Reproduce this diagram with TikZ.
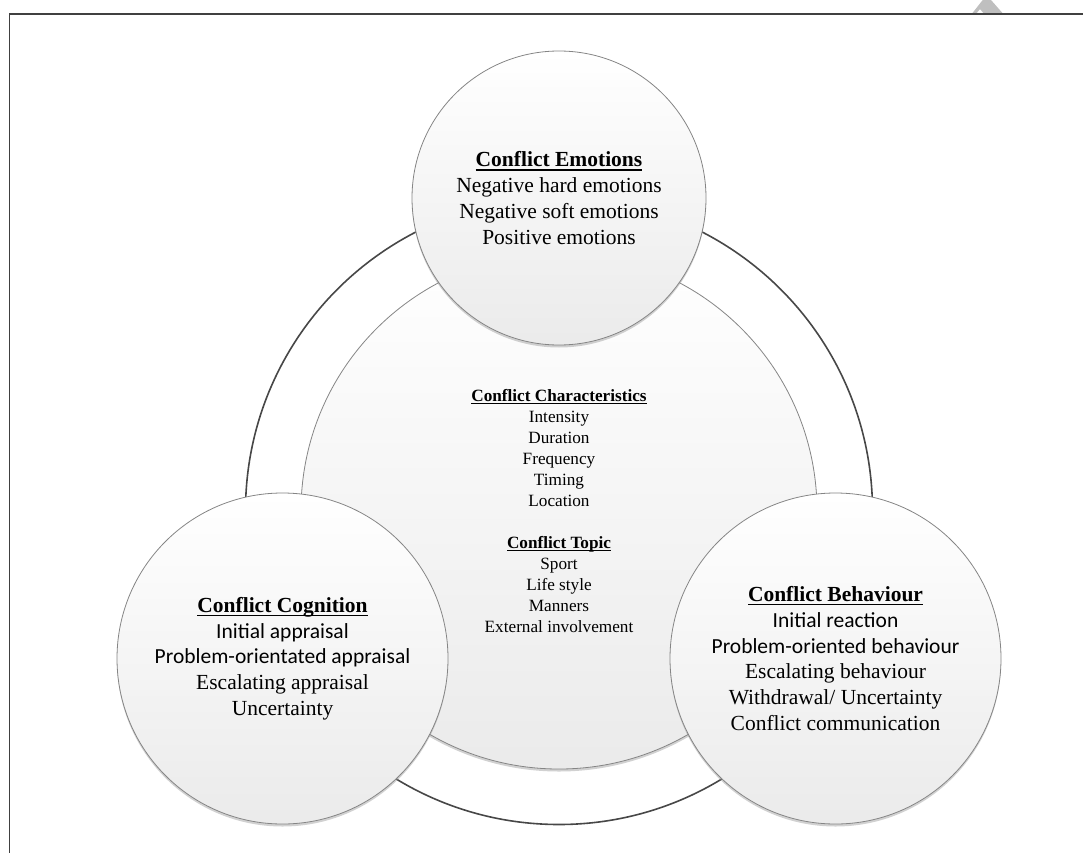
\documentclass[tikz,border=0pt]{standalone}
\usepackage{fontspec}
\setmainfont{Liberation Serif}
\newfontfamily\calfont{Carlito}
\usetikzlibrary{shadows}
\newcommand\titleul[1]{\leavevmode\setbox0\hbox{\textbf{#1}}\rlap{\rule[-0.17em]{\wd0}{0.055em}}\box0}
\tikzset{
  frameline/.style={draw=black!75, line width=1.4pt},
  ring/.style={circle, draw=black!72, line width=1.6pt, fill=white, inner sep=0pt},
  bubble/.style={circle, draw=black!48, line width=0.8pt, top color=white, bottom color=black!8,
     inner sep=0pt, align=center, text=black,
     drop shadow={shadow xshift=0pt, shadow yshift=-2.5pt, fill=black!40, opacity=0.45}},
  bigtext/.style={font=\fontsize{21.5}{25.7}\selectfont},
  smalltext/.style={font=\fontsize{17.2}{21}\selectfont}
}
\begin{document}
\begin{tikzpicture}[x=1pt,y=-1pt]
\useasboundingbox (0,0) rectangle (1083,853);
% watermark fragment
\fill[black!25] (971.7,14) -- (982.7,0) -- (991,0) -- (1003.3,14) -- cycle;
\fill[white] (976,14) -- (980,9.3) -- (984,14) -- cycle;
% frame
\coordinate (ftl) at (9.5,14);
\coordinate (ftr) at (1083,14);
\coordinate (fbl) at (9.5,853);
\draw[frameline] (ftr) -- (ftl) -- (fbl);
% outer ring and inner circle
\node[ring, minimum size=627pt] (outer) at (559,511) {};
\node[bubble, smalltext, minimum size=516pt] (inner) at (559,511)
  {\titleul{Conflict Characteristics}\\
   Intensity\\ Duration\\ Frequency\\ Timing\\ Location\\[21pt]
   \titleul{Conflict Topic}\\
   Sport\\ Life style\\ Manners\\ External involvement};
% three outer bubbles
\node[bubble, bigtext, minimum size=294pt] (emo) at (559,198)
  {\titleul{Conflict Emotions}\\
   Negative hard emotions\\ Negative soft emotions\\ Positive emotions};
\node[bubble, bigtext, minimum size=331pt] (cog) at (282.5,658.5)
  {\titleul{Conflict Cognition}\\
   {\calfont Initial appraisal}\\
   {\calfont Problem-orientated appraisal}\\
   Escalating appraisal\\ Uncertainty};
\node[bubble, bigtext, minimum size=331pt] (beh) at (835.5,658.5)
  {\titleul{Conflict Behaviour}\\
   {\calfont Initial reaction}\\
   {\calfont Problem-oriented behaviour}\\
   Escalating behaviour\\ Withdrawal/ Uncertainty\\ Conflict communication};
\end{tikzpicture}
\end{document}
